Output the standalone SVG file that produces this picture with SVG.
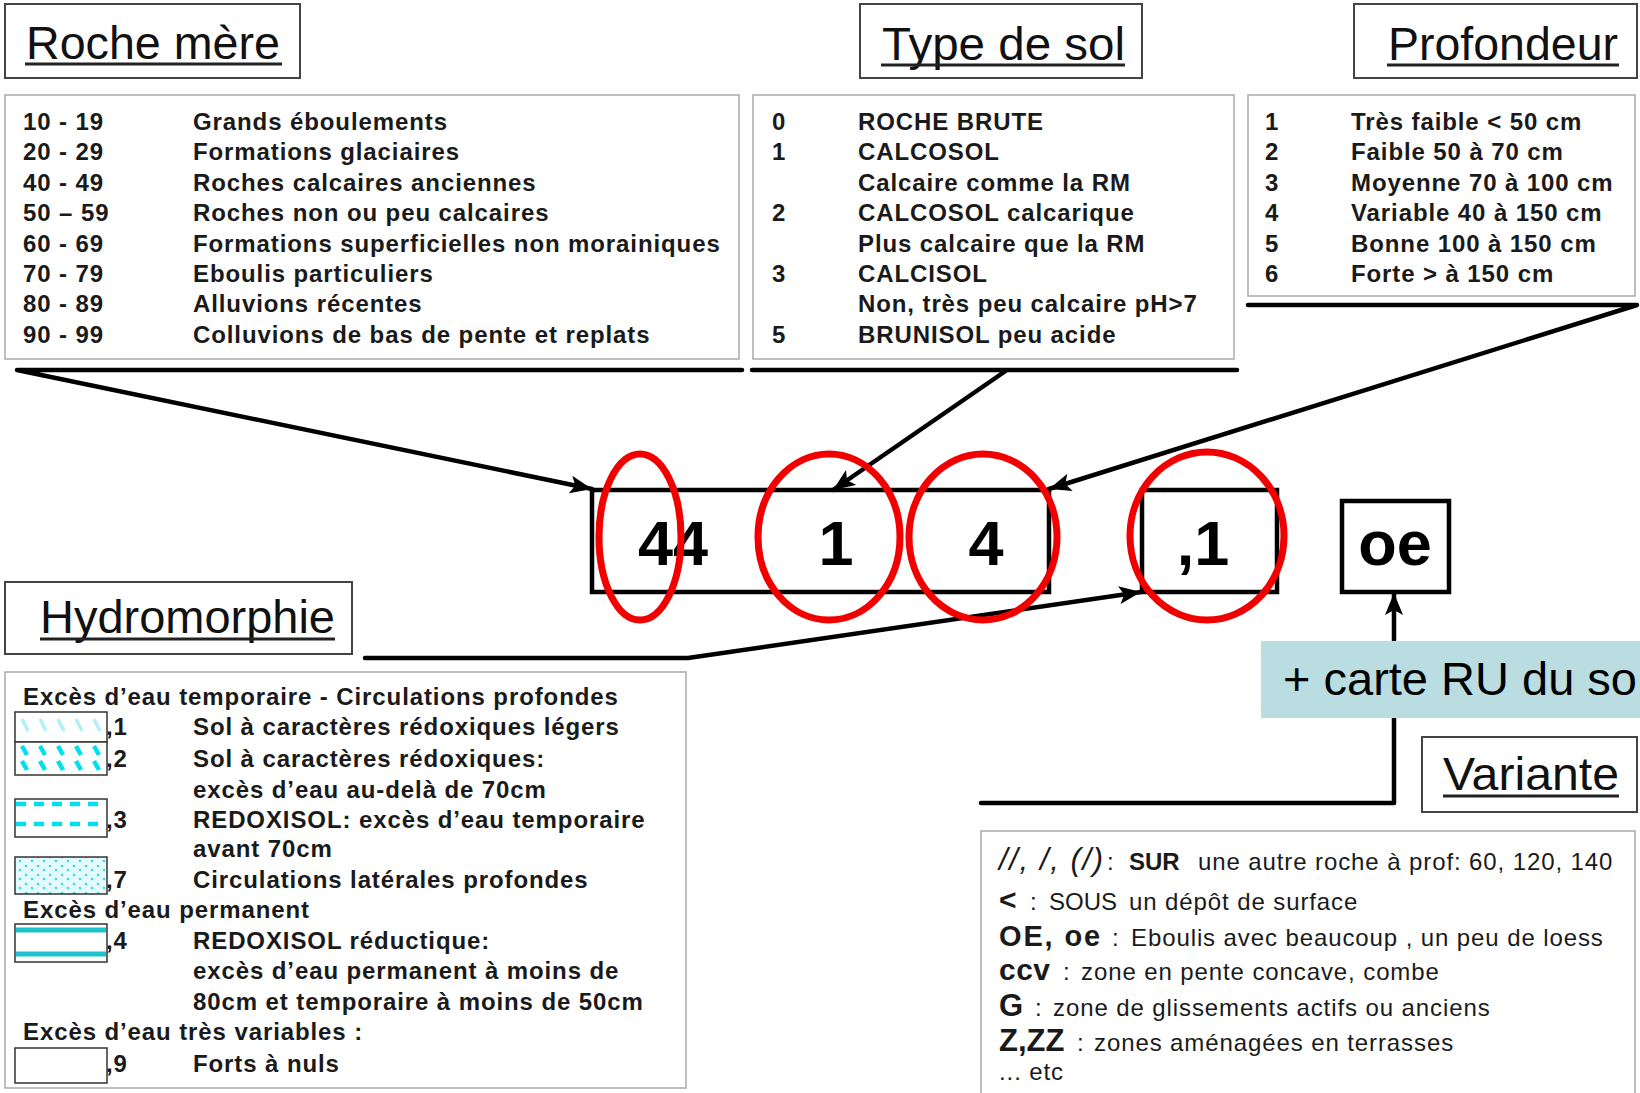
<svg xmlns="http://www.w3.org/2000/svg" width="1640" height="1093" viewBox="0 0 1640 1093">
<defs>
<style>
.title{font-family:"Liberation Sans",Arial,sans-serif;font-size:46px;fill:#111}
.ul{stroke:#222;stroke-width:3}
.tbox{fill:#fff;stroke:#444;stroke-width:2}
.table{fill:#fff;stroke:#aaa;stroke-width:1.5}
.t{font-family:"Liberation Sans",Arial,sans-serif;font-size:24px;font-weight:bold;fill:#1a1a1a;letter-spacing:0.9px}
.v{font-family:"Liberation Sans",Arial,sans-serif;font-size:24px;fill:#1a1a1a;letter-spacing:0.9px}
.vb{font-weight:bold}
.code{font-family:"Liberation Sans",Arial,sans-serif;font-size:63px;font-weight:bold;fill:#000;text-anchor:middle}
.conn{fill:none;stroke:#000;stroke-width:4.5;stroke-linejoin:round;stroke-linecap:round}
.ring{fill:none;stroke:#f20000;stroke-width:7}
.sw{fill:#fff;stroke:#333;stroke-width:1.5}
</style>
<marker id="arr" markerUnits="userSpaceOnUse" markerWidth="24" markerHeight="18" refX="22" refY="9" orient="auto">
<path d="M0,0 L22,9 L0,18 L5,9 Z" fill="#000"/>
</marker>
<pattern id="dots" width="12" height="9" patternUnits="userSpaceOnUse">
<rect width="12" height="9" fill="#e4fbfd"/>
<circle cx="2" cy="2" r="1.2" fill="#2fd8e6"/>
<circle cx="8" cy="6" r="1.2" fill="#2fd8e6"/>
</pattern>
</defs>

<!-- Roche mère -->
<g id="roche-mere">
<rect class="tbox" x="5" y="4" width="295" height="74"/>
<text class="title" x="26" y="59" textLength="254" lengthAdjust="spacingAndGlyphs">Roche mère</text>
<line class="ul" x1="25" y1="64" x2="282" y2="64"/>
<rect class="table" x="5" y="95" width="734" height="264"/>
<text class="t" x="23" y="130">10 - 19</text><text class="t" x="193" y="130">Grands éboulements</text>
<text class="t" x="23" y="160">20 - 29</text><text class="t" x="193" y="160">Formations glaciaires</text>
<text class="t" x="23" y="191">40 - 49</text><text class="t" x="193" y="191">Roches calcaires anciennes</text>
<text class="t" x="23" y="221">50 – 59</text><text class="t" x="193" y="221">Roches non ou peu calcaires</text>
<text class="t" x="23" y="252">60 - 69</text><text class="t" x="193" y="252">Formations superficielles non morainiques</text>
<text class="t" x="23" y="282">70 - 79</text><text class="t" x="193" y="282">Eboulis particuliers</text>
<text class="t" x="23" y="312">80 - 89</text><text class="t" x="193" y="312">Alluvions récentes</text>
<text class="t" x="23" y="343">90 - 99</text><text class="t" x="193" y="343">Colluvions de bas de pente et replats</text>
</g>

<!-- Type de sol -->
<g id="type-de-sol">
<rect class="tbox" x="860" y="4" width="282" height="74"/>
<text class="title" x="882" y="60" textLength="243" lengthAdjust="spacingAndGlyphs">Type de sol</text>
<line class="ul" x1="881" y1="65" x2="1125" y2="65"/>
<rect class="table" x="753" y="95" width="481" height="264"/>
<text class="t" x="772" y="130">0</text><text class="t" x="858" y="130">ROCHE BRUTE</text>
<text class="t" x="772" y="160">1</text><text class="t" x="858" y="160">CALCOSOL</text>
<text class="t" x="858" y="191">Calcaire comme la RM</text>
<text class="t" x="772" y="221">2</text><text class="t" x="858" y="221">CALCOSOL calcarique</text>
<text class="t" x="858" y="252">Plus calcaire que la RM</text>
<text class="t" x="772" y="282">3</text><text class="t" x="858" y="282">CALCISOL</text>
<text class="t" x="858" y="312">Non, très peu calcaire pH&gt;7</text>
<text class="t" x="772" y="343">5</text><text class="t" x="858" y="343">BRUNISOL peu acide</text>
</g>

<!-- Profondeur -->
<g id="profondeur">
<rect class="tbox" x="1354" y="4" width="283" height="74"/>
<text class="title" x="1388" y="60" textLength="230" lengthAdjust="spacingAndGlyphs">Profondeur</text>
<line class="ul" x1="1387" y1="65" x2="1619" y2="65"/>
<rect class="table" x="1248" y="95" width="387" height="201"/>
<text class="t" x="1265" y="130">1</text><text class="t" x="1351" y="130">Très faible &lt; 50 cm</text>
<text class="t" x="1265" y="160">2</text><text class="t" x="1351" y="160">Faible 50 à 70 cm</text>
<text class="t" x="1265" y="191">3</text><text class="t" x="1351" y="191">Moyenne 70 à 100 cm</text>
<text class="t" x="1265" y="221">4</text><text class="t" x="1351" y="221">Variable 40 à 150 cm</text>
<text class="t" x="1265" y="252">5</text><text class="t" x="1351" y="252">Bonne 100 à 150 cm</text>
<text class="t" x="1265" y="282">6</text><text class="t" x="1351" y="282">Forte &gt; à 150 cm</text>
</g>

<!-- Connectors -->
<g id="connectors">
<path class="conn" d="M742 370 L17 370 L592 489" marker-end="url(#arr)"/>
<path class="conn" d="M752 370 L1237 370 M1007 370 L833 490" marker-end="url(#arr)"/>
<path class="conn" d="M1248 305 L1637 305 L1049 489" marker-end="url(#arr)"/>
<path class="conn" d="M365 658 L688 658 L1141 592" marker-end="url(#arr)"/>
<path class="conn" d="M981 803 L1394 803 L1394 593" marker-end="url(#arr)"/>
</g>

<!-- Code boxes -->
<g id="code-main">
<rect x="592" y="490" width="457" height="102" fill="none" stroke="#000" stroke-width="4.5"/>
<text class="code" x="673" y="565">44</text>
<text class="code" x="836" y="565">1</text>
<text class="code" x="986" y="565">4</text>
</g>
<g id="code-hydro">
<rect x="1142" y="490" width="135" height="102" fill="none" stroke="#000" stroke-width="4.5"/>
<text class="code" x="1203" y="565">,1</text>
</g>
<g id="code-variante">
<rect x="1342" y="501" width="107" height="91" fill="#fff" stroke="#000" stroke-width="4.5"/>
<text class="code" x="1395" y="565">oe</text>
</g>

<!-- Red circles -->
<g id="highlights">
<ellipse class="ring" cx="640" cy="537" rx="41" ry="83"/>
<ellipse class="ring" cx="829" cy="537" rx="71" ry="83"/>
<ellipse class="ring" cx="983" cy="537" rx="74" ry="83"/>
<ellipse class="ring" cx="1207" cy="536" rx="77" ry="84"/>
</g>

<!-- Carte RU -->
<g id="carte-ru">
<rect x="1261" y="641" width="379" height="77" fill="#b9dde1"/>
<text x="1283" y="695" font-family="Liberation Sans, Arial, sans-serif" font-size="47" fill="#000">+ carte RU du so</text>
</g>

<!-- Hydromorphie -->
<g id="hydromorphie">
<rect class="tbox" x="5" y="582" width="347" height="72"/>
<text class="title" x="40" y="633" textLength="295" lengthAdjust="spacingAndGlyphs">Hydromorphie</text>
<line class="ul" x1="40" y1="639" x2="335" y2="639"/>
<rect class="table" x="5" y="672" width="681" height="416"/>
<text class="t" x="23" y="705">Excès d’eau temporaire - Circulations profondes</text>
<!-- swatch 1 -->
<rect class="sw" x="15" y="712" width="92" height="30"/>
<g stroke="#b0f0f6" stroke-width="3.5">
<line x1="22" y1="719" x2="28" y2="731"/><line x1="40" y1="719" x2="46" y2="731"/><line x1="58" y1="719" x2="64" y2="731"/><line x1="76" y1="719" x2="82" y2="731"/><line x1="94" y1="719" x2="100" y2="731"/>
</g>
<text class="t" x="106" y="735">,1</text><text class="t" x="193" y="735">Sol à caractères rédoxiques légers</text>
<!-- swatch 2 -->
<rect class="sw" x="15" y="742" width="92" height="33"/>
<g stroke="#00dfee" stroke-width="4.5">
<line x1="22" y1="746" x2="27" y2="755"/><line x1="40" y1="746" x2="45" y2="755"/><line x1="58" y1="746" x2="63" y2="755"/><line x1="76" y1="746" x2="81" y2="755"/><line x1="94" y1="746" x2="99" y2="755"/>
<line x1="22" y1="761" x2="27" y2="770"/><line x1="40" y1="761" x2="45" y2="770"/><line x1="58" y1="761" x2="63" y2="770"/><line x1="76" y1="761" x2="81" y2="770"/><line x1="94" y1="761" x2="99" y2="770"/>
</g>
<text class="t" x="106" y="767">,2</text><text class="t" x="193" y="767">Sol à caractères rédoxiques:</text>
<text class="t" x="193" y="798">excès d’eau au-delà de 70cm</text>
<!-- swatch 3 -->
<rect class="sw" x="15" y="799" width="92" height="38"/>
<g stroke="#00dfee" stroke-width="4.5" stroke-dasharray="10 8">
<line x1="16" y1="804" x2="106" y2="804"/><line x1="16" y1="824" x2="106" y2="824"/>
</g>
<text class="t" x="106" y="828">,3</text><text class="t" x="193" y="828">REDOXISOL: excès d’eau temporaire</text>
<text class="t" x="193" y="857">avant 70cm</text>
<!-- swatch 7 -->
<rect x="15" y="857" width="92" height="37" fill="url(#dots)" stroke="#333" stroke-width="1.5"/>
<text class="t" x="106" y="888">,7</text><text class="t" x="193" y="888">Circulations latérales profondes</text>
<text class="t" x="23" y="918">Excès d’eau permanent</text>
<!-- swatch 4 -->
<rect class="sw" x="15" y="924" width="92" height="38"/>
<g stroke="#1cc3cc" stroke-width="5">
<line x1="16" y1="930" x2="106" y2="930"/><line x1="16" y1="954" x2="106" y2="954"/>
</g>
<text class="t" x="106" y="949">,4</text><text class="t" x="193" y="949">REDOXISOL réductique:</text>
<text class="t" x="193" y="979">excès d’eau permanent à moins de</text>
<text class="t" x="193" y="1010">80cm et temporaire à moins de 50cm</text>
<text class="t" x="23" y="1040">Excès d’eau très variables :</text>
<!-- swatch 9 -->
<rect class="sw" x="15" y="1048" width="92" height="35"/>
<text class="t" x="106" y="1072">,9</text><text class="t" x="193" y="1072">Forts à nuls</text>
</g>

<!-- Variante -->
<g id="variante">
<rect class="tbox" x="1422" y="737" width="215" height="75"/>
<text class="title" x="1443" y="790" textLength="176" lengthAdjust="spacingAndGlyphs">Variante</text>
<line class="ul" x1="1443" y1="796" x2="1619" y2="796"/>
<rect class="table" x="981" y="831" width="654" height="280" stroke="#444"/>
<text class="v" y="870"><tspan x="999" font-size="31" font-style="italic" textLength="105" lengthAdjust="spacing">//, /, (/)</tspan><tspan x="1107">:</tspan><tspan x="1129" class="vb" letter-spacing="0">SUR</tspan><tspan x="1198">une autre roche à  prof: 60, 120, 140</tspan></text>
<text class="v" y="910"><tspan x="999" font-size="30" font-weight="bold">&lt;</tspan><tspan x="1030">:</tspan><tspan x="1049" letter-spacing="0">SOUS</tspan><tspan x="1129">un dépôt de surface</tspan></text>
<text class="v" y="946"><tspan x="999" font-size="29" font-weight="bold" textLength="102" lengthAdjust="spacing">OE, oe</tspan><tspan x="1112">:</tspan><tspan x="1131">Eboulis avec beaucoup , un peu de loess</tspan></text>
<text class="v" y="980"><tspan x="999" font-size="30" font-weight="bold" letter-spacing="0.5">ccv</tspan><tspan x="1063">:</tspan><tspan x="1081">zone en pente concave, combe</tspan></text>
<text class="v" y="1016"><tspan x="999" font-size="31" font-weight="bold">G</tspan><tspan x="1035">:</tspan><tspan x="1053">zone de glissements actifs ou anciens</tspan></text>
<text class="v" y="1051"><tspan x="999" font-size="31" font-weight="bold" letter-spacing="0">Z,ZZ</tspan><tspan x="1077">:</tspan><tspan x="1094">zones aménagées en terrasses</tspan></text>
<text class="v" x="999" y="1080" font-size="22">... etc</text>
</g>
</svg>
